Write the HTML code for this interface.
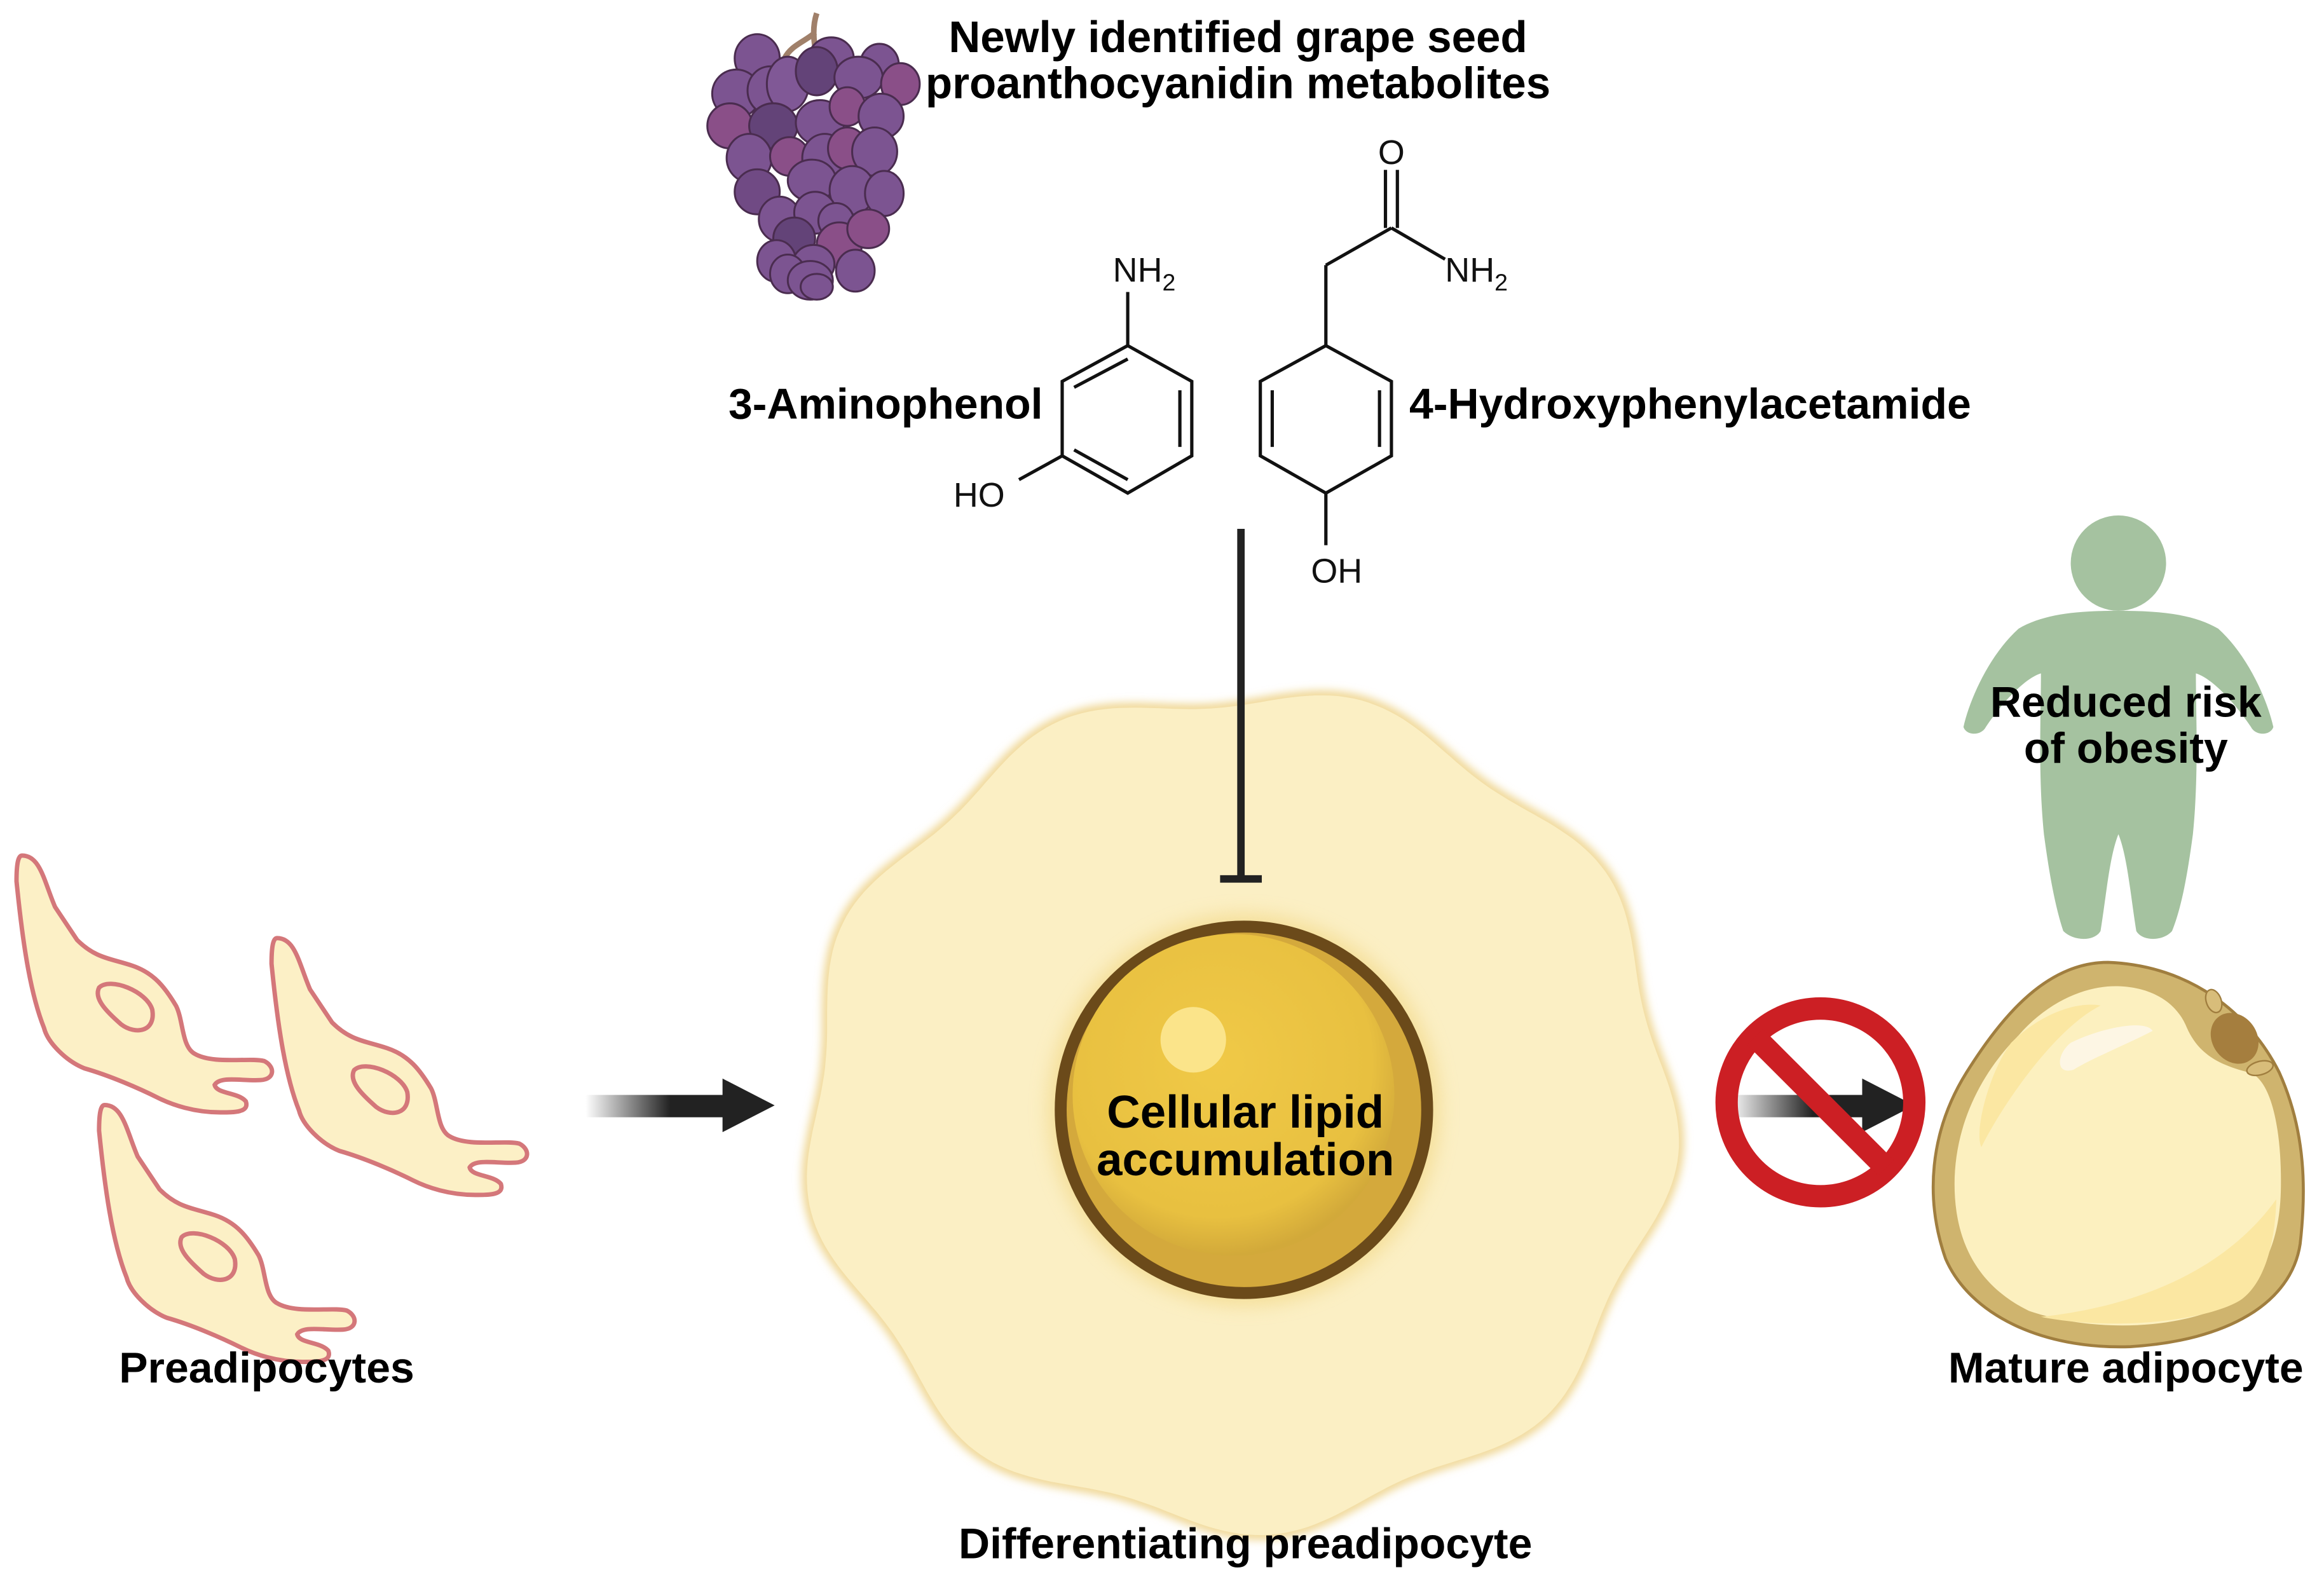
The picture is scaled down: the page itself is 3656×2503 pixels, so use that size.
<!DOCTYPE html>
<html><head><meta charset="utf-8"><style>
html,body{margin:0;padding:0;background:#fff;}
svg{display:block}
text{font-family:"Liberation Sans",Arial,sans-serif;}
.b{font-weight:bold;fill:#000}
</style></head><body>
<svg id="s" width="3656" height="2503" viewBox="0 0 1560 1068" xmlns="http://www.w3.org/2000/svg">
<defs>
<linearGradient id="ag" x1="0" x2="1" y1="0" y2="0">
<stop offset="0" stop-color="#222" stop-opacity="0"/><stop offset="0.6" stop-color="#222" stop-opacity="1"/></linearGradient>
<radialGradient id="lip" cx="0.45" cy="0.4" r="0.6"><stop offset="0" stop-color="#f0c947"/><stop offset="0.8" stop-color="#e8c040"/><stop offset="1" stop-color="#d2a93a"/></radialGradient>
<filter id="bl" x="-10%" y="-10%" width="120%" height="120%"><feGaussianBlur stdDeviation="3"/></filter>
<filter id="gl" x="-20%" y="-20%" width="140%" height="140%"><feGaussianBlur stdDeviation="6"/></filter>
<g id="cell">
<path d="M60,80 C110,80 120,150 150,220 L210,310 C260,360 300,360 360,380 C420,400 450,440 480,490 C500,530 495,600 530,620 C580,650 680,630 720,640 C750,655 750,690 710,692 C660,695 600,680 585,705 C590,730 650,725 670,750 C680,780 640,780 600,780 C530,780 470,760 430,740 C380,715 300,680 230,660 C180,640 130,590 120,550 C80,450 60,300 45,150 C45,100 50,80 60,80 Z" fill="#fcf0c6" stroke="#d4777a" stroke-width="12"/>
<path d="M270,440 C300,410 400,450 415,500 C425,560 370,570 330,540 C290,505 255,470 270,440 Z" fill="#fcf0c6" stroke="#d4777a" stroke-width="12"/>
</g>
</defs>

<!-- titles -->
<text class="b" x="831" y="35" font-size="29.5" text-anchor="middle">Newly identified grape seed</text>
<text class="b" x="831" y="66" font-size="29.5" text-anchor="middle">proanthocyanidin metabolites</text>

<!-- grapes -->
<g transform="translate(545,105) scale(1.08) translate(-545,-105)">
<g stroke="#4a2c4f" stroke-width="1.2">
<path d="M548,16 C546,22 545,30 548,42 M547,28 C540,34 532,36 528,44 M548,36 C553,40 558,42 562,48" stroke="#a0806a" stroke-width="3.5" fill="none"/>
<g fill="#7c5491">
<ellipse cx="511" cy="44" rx="14" ry="15"/><ellipse cx="557" cy="44" rx="14" ry="13"/><ellipse cx="587" cy="48" rx="12" ry="13"/>
<ellipse cx="498" cy="66" rx="15" ry="15"/><ellipse cx="519" cy="64" rx="14" ry="15"/><ellipse cx="530" cy="60" rx="13" ry="17" fill="#805896"/>
<ellipse cx="548" cy="52" rx="13" ry="15" fill="#634378"/><ellipse cx="574" cy="56" rx="15" ry="13"/><ellipse cx="600" cy="60" rx="12" ry="13" fill="#8a4f88"/>
<ellipse cx="494" cy="86" rx="14" ry="14" fill="#8a4f88"/><ellipse cx="521" cy="86" rx="15" ry="14" fill="#634378"/><ellipse cx="550" cy="84" rx="15" ry="14"/>
<ellipse cx="567" cy="74" rx="11" ry="12" fill="#8a4f88"/><ellipse cx="588" cy="80" rx="14" ry="14"/>
<ellipse cx="506" cy="106" rx="14" ry="15"/><ellipse cx="531" cy="105" rx="12" ry="12" fill="#8a4f88"/><ellipse cx="553" cy="106" rx="14" ry="15"/>
<ellipse cx="567" cy="100" rx="12" ry="13" fill="#8a4f88"/><ellipse cx="584" cy="102" rx="14" ry="15"/>
<ellipse cx="511" cy="127" rx="14" ry="14" fill="#704a84"/><ellipse cx="545" cy="120" rx="15" ry="13"/><ellipse cx="570" cy="126" rx="14" ry="15"/><ellipse cx="590" cy="128" rx="12" ry="14"/>
<ellipse cx="525" cy="144" rx="13" ry="14"/><ellipse cx="547" cy="140" rx="13" ry="13"/><ellipse cx="560" cy="145" rx="11" ry="11"/>
<ellipse cx="534" cy="156" rx="13" ry="13" fill="#634378"/><ellipse cx="562" cy="160" rx="14" ry="14" fill="#8a4f88"/><ellipse cx="580" cy="150" rx="13" ry="12" fill="#8a4f88"/>
<ellipse cx="523" cy="170" rx="12" ry="13"/><ellipse cx="546" cy="172" rx="13" ry="12"/><ellipse cx="572" cy="176" rx="12" ry="13"/>
<ellipse cx="530" cy="178" rx="11" ry="12"/><ellipse cx="544" cy="182" rx="14" ry="12"/><ellipse cx="548" cy="186" rx="10" ry="8"/>
</g></g></g>

<!-- structures -->
<g stroke="#111" stroke-width="2.2" fill="none">
<polygon points="757,232 800,256 800,306 757,331 713,306 713,256"/>
<line x1="792" y1="262" x2="792" y2="300"/><line x1="721" y1="302" x2="757" y2="322"/><line x1="721" y1="260" x2="757" y2="241"/>
<line x1="757" y1="232" x2="757" y2="196"/><line x1="713" y1="306" x2="684" y2="322"/>
<polygon points="890,232 934,256 934,306 890,331 846,306 846,256"/>
<line x1="926" y1="262" x2="926" y2="300"/><line x1="854" y1="262" x2="854" y2="300"/>
<line x1="890" y1="331" x2="890" y2="366"/><line x1="890" y1="232" x2="890" y2="178"/><line x1="890" y1="178" x2="934" y2="153"/>
<line x1="930" y1="153" x2="930" y2="114"/><line x1="938" y1="153" x2="938" y2="114"/><line x1="934" y1="153" x2="970" y2="174"/>
</g>
<g font-size="23" fill="#111">
<text x="747" y="189">NH<tspan font-size="16" dy="6">2</tspan></text>
<text x="640" y="340">HO</text>
<text x="880" y="391">OH</text>
<text x="925" y="110">O</text>
<text x="970" y="189">NH<tspan font-size="16" dy="6">2</tspan></text>
</g>
<text class="b" x="700" y="281" font-size="29" text-anchor="end">3-Aminophenol</text>
<text class="b" x="946" y="281" font-size="29">4-Hydroxyphenylacetamide</text>

<!-- differentiating cell -->
<ellipse id="fb" cx="832" cy="745" rx="292" ry="282" fill="#fbefc4" stroke="#f0d488" stroke-width="6"/>
<path id="wave" d="" fill="#fbefc4" stroke="#eed38a" stroke-width="6" filter="url(#bl)"/>
<path id="wave2" d="" fill="#fbefc4"/>

<!-- inhibition -->
<line x1="833" y1="355" x2="833" y2="590" stroke="#222" stroke-width="5"/>
<line x1="819" y1="590" x2="847" y2="590" stroke="#222" stroke-width="5"/>

<!-- lipid droplet -->
<circle cx="835" cy="745" r="132" fill="#f3d98a" filter="url(#gl)" opacity="0.7"/>
<circle cx="835" cy="745" r="123" fill="#d4a93c" stroke="#6b4a1a" stroke-width="8"/>
<circle cx="828" cy="735" r="108" fill="url(#lip)"/>
<circle cx="801" cy="698" r="22" fill="#fbe48a"/>
<text class="b" x="836" y="757" font-size="31" text-anchor="middle">Cellular lipid</text>
<text class="b" x="836" y="789" font-size="31" text-anchor="middle">accumulation</text>
<text class="b" x="836" y="1046" font-size="29" text-anchor="middle">Differentiating preadipocyte</text>

<!-- preadipocytes -->
<g transform="translate(0,554.6) scale(0.2463)">
<use href="#cell"/><use href="#cell" x="695" y="225"/><use href="#cell" x="225" y="680"/>
</g>
<text class="b" x="179" y="928" font-size="29" text-anchor="middle">Preadipocytes</text>

<!-- arrows -->
<rect x="393" y="735" width="95" height="15" fill="url(#ag)"/>
<polygon points="485,724 520,742 485,760" fill="#222"/>
<rect x="1160" y="735" width="95" height="15" fill="url(#ag)"/>
<polygon points="1250,724 1285,742 1250,760" fill="#222"/>
<circle cx="1222" cy="740" r="63" fill="none" stroke="#cc1f24" stroke-width="15"/>
<line x1="1178" y1="696" x2="1266" y2="784" stroke="#cc1f24" stroke-width="15"/>

<!-- human -->
<path d="M1422,410 C1395,410 1372,412 1355,422 C1335,440 1322,470 1318,488 C1320,494 1330,494 1333,488 C1345,470 1360,455 1370,452 C1370,480 1368,520 1372,560 C1376,590 1380,610 1385,625 C1392,632 1406,632 1410,625 C1414,600 1416,575 1422,560 C1428,575 1430,600 1434,625 C1438,632 1452,632 1458,625 C1464,610 1468,590 1472,560 C1476,520 1474,480 1474,452 C1484,455 1499,470 1511,488 C1514,494 1524,494 1526,488 C1522,470 1509,440 1489,422 C1472,412 1449,410 1422,410 Z" fill="#a5c2a0"/>
<circle cx="1422" cy="378" r="32" fill="#a5c2a0"/>
<text class="b" x="1427" y="481" font-size="29" text-anchor="middle">Reduced risk</text>
<text class="b" x="1427" y="512" font-size="29" text-anchor="middle">of obesity</text>

<!-- mature adipocyte -->
<path d="M1415,646 C1470,648 1510,680 1530,720 C1548,760 1548,800 1544,835 C1538,875 1495,900 1430,904 C1370,906 1322,882 1306,845 C1292,805 1295,760 1320,720 C1345,680 1375,646 1415,646 Z" fill="#cfb46e" stroke="#a07e3f" stroke-width="2"/>
<path d="M1420,662 C1440,662 1460,670 1468,690 C1476,708 1490,715 1510,720 C1525,725 1532,760 1531,800 C1530,835 1518,865 1485,880 C1450,893 1400,893 1362,880 C1325,862 1312,830 1312,795 C1312,755 1330,720 1355,695 C1375,672 1400,662 1420,662 Z" fill="#fcf0bf"/>
<path d="M1350,700 C1370,680 1395,672 1410,675 C1380,690 1345,740 1330,770 C1325,760 1335,720 1350,700 Z" fill="#fbe7a2"/>
<path d="M1390,700 C1410,690 1440,684 1445,692 C1430,700 1405,710 1392,718 C1380,722 1380,708 1390,700 Z" fill="#fdf6e4"/>
<path d="M1505,872 C1485,886 1420,894 1370,884 C1425,878 1490,858 1528,805 C1527,840 1518,862 1505,872 Z" fill="#fbe7a2"/>
<ellipse cx="1500" cy="697" rx="15" ry="18" transform="rotate(-35 1500 697)" fill="#a57e3e"/>
<ellipse cx="1486" cy="672" rx="5" ry="8" transform="rotate(-20 1486 672)" fill="#d8bd7a" stroke="#a07e3f" stroke-width="1"/>
<ellipse cx="1517" cy="717" rx="9" ry="4.5" transform="rotate(-15 1517 717)" fill="#d8bd7a" stroke="#a07e3f" stroke-width="1"/>
<text class="b" x="1427" y="928" font-size="29" text-anchor="middle">Mature adipocyte</text>
</svg>
<script>
(function(){
var cx=832,cy=745,rx=288,ry=278,n=9,a=8,d="";
for(var i=0;i<=360;i++){var t=i*Math.PI/180;var k=1+a/280*Math.sin(n*t+0.6);
var x=cx+rx*k*Math.cos(t),y=cy+ry*k*Math.sin(t);d+=(i?"L":"M")+x.toFixed(1)+","+y.toFixed(1);}
d+="Z";document.getElementById("wave").setAttribute("d",d);
document.getElementById("wave2").setAttribute("d",d);
document.getElementById("fb").setAttribute("opacity","0");
})();
</script>
</body></html>
